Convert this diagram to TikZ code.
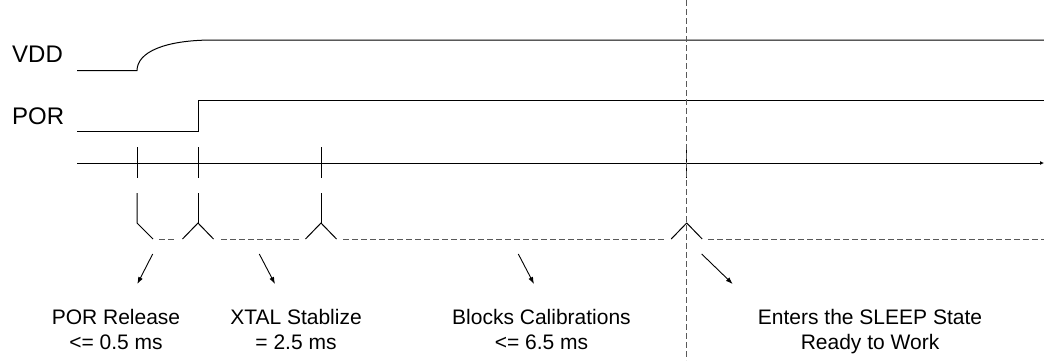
\documentclass[tikz,border=0pt]{standalone}
\usepackage{fontspec}
\setmainfont{Liberation Sans}
\usetikzlibrary{arrows.meta}
\tikzset{
  wave/.style={line width=1pt},
  gap/.style={line width=1pt, black!65, dash pattern=on 6pt off 3pt},
  pointer/.style={line width=0.9pt, -{Latex[length=7pt,width=5pt]}},
  phase/.style={align=center, inner sep=0pt, anchor=north, font=\fontsize{21}{25}\selectfont},
  signame/.style={inner sep=0pt, anchor=base west, font=\fontsize{24}{28}\selectfont}
}
\begin{document}
\begin{tikzpicture}[x=1pt,y=-1pt]
\useasboundingbox (0,0) rectangle (1044,360);
% signal names
\node[signame] (vdd) at (12,62) {VDD};
\node[signame] (por) at (12,124) {POR};
% VDD ramps, POR steps
\draw[wave] (77,70.7) -- (137,70.7) .. controls (137,52) and (165,40) .. (213,40) -- (1044,40);
\draw[wave] (77,131.7) -- (198,131.7) -- (198,100.7) -- (1044,100.7);
% time axis
\coordinate (t0) at (77,163);
\coordinate (tend) at (1044,163);
\draw[wave,-{Latex[length=4pt,width=4pt]}] (t0) -- (tend);
\foreach \x in {137,198,321,686.7}{ % edit here for the ticks
\draw[wave,shift={(\x,163)}] (0,-16) -- (0,15);}
% sleep line
\coordinate (sleeptop) at (686.7,0);
\coordinate (sleepbot) at (686.7,360);
\draw[gap] (sleeptop) -- (sleepbot);
% phase brackets
\draw[wave] (137,193) -- (137,223) -- (153,239);
\foreach \x in {198,321}
\draw[wave,shift={(\x,0)}] (0,193) -- (0,223);
\foreach \x in {198,321,686.7}
\draw[wave,shift={(\x,0)}] (-15.5,239) -- (0,223) -- (15.5,239);
\draw[gap] (159,239) -- (176,239);
\draw[gap] (221,239) -- (299,239);
\draw[gap] (343,239) -- (666,239);
\draw[gap] (708,239) -- (1044,239);
% phase labels
\node[phase] (porrel) at (116,309.5) {POR Release\\<= 0.5 ms};
\node[phase] (xtal) at (296,309.5) {XTAL Stablize\\= 2.5 ms};
\node[phase] (calib) at (541.5,309.5) {Blocks Calibrations\\<= 6.5 ms};
\node[phase] (sleep) at (870,309.5) {Enters the SLEEP State\\Ready to Work};
% pointers
\coordinate (p1) at (152.7,254); \coordinate (q1) at (137.3,284);
\coordinate (p2) at (259.3,254); \coordinate (q2) at (275,284);
\coordinate (p3) at (518.3,254); \coordinate (q3) at (534,284);
\coordinate (p4) at (701.7,254); \coordinate (q4) at (732.7,284);
\foreach \i in {1,...,4}
\draw[pointer] (p\i) -- (q\i);
\end{tikzpicture}
\end{document}
